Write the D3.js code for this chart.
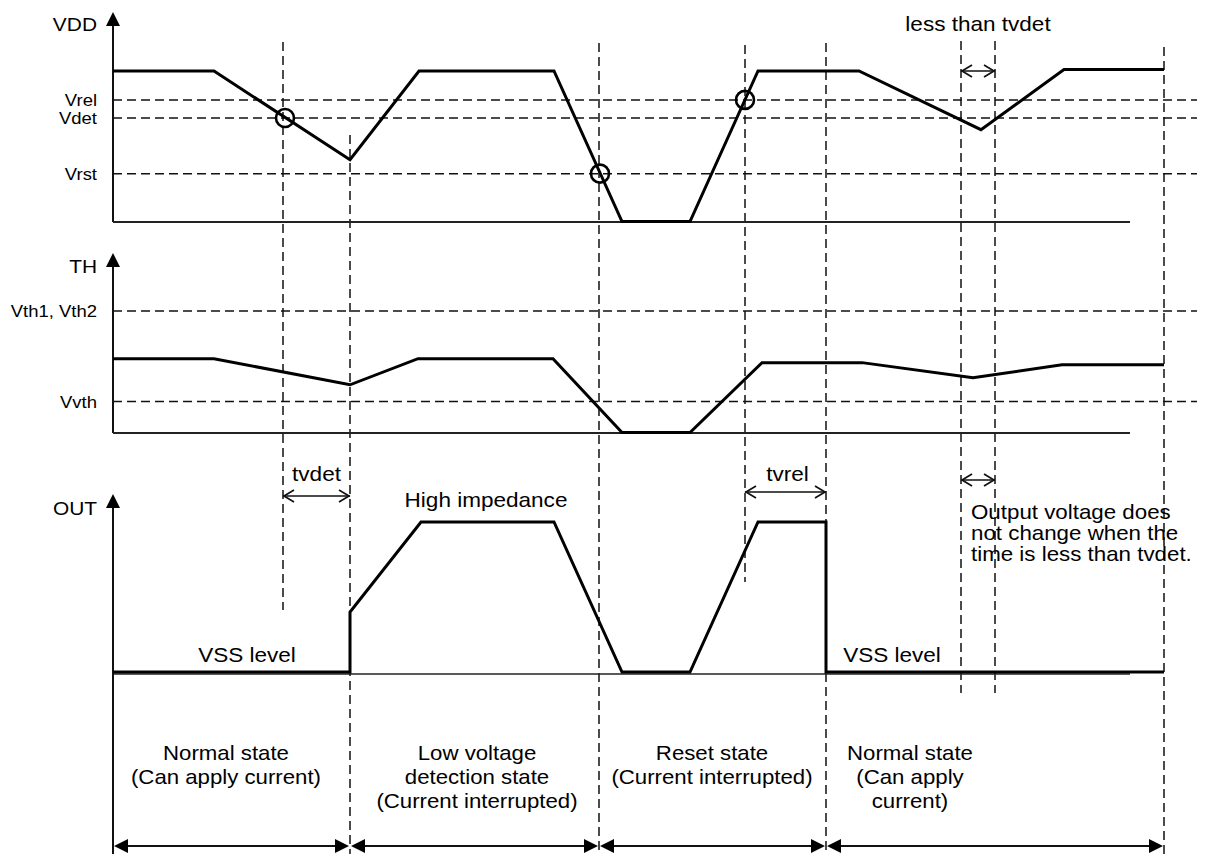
<!DOCTYPE html>
<html>
<head>
<meta charset="utf-8">
<script src="https://cdn.jsdelivr.net/npm/d3@7"></script>
<style>
  body { margin: 0; background: #fff; }
  svg { display: block; font-family: "Liberation Sans", Arial, Helvetica, sans-serif; }
</style>
</head>
<body>
<svg id="chart"></svg>
<script>
// Waveform data: time in arbitrary units, levels in arbitrary volts
const vddTimes  = [0, 10.1, 23.7, 30.6, 44.1, 50.9, 57.7, 64.5, 74.6, 86.8, 95.1, 105.1];
const vddValues = [5, 5, 2.05, 5, 5, 0, 0, 5, 5, 3.05, 5.05, 5.05];

const thTimes  = [0, 10.1, 23.7, 30.5, 44.0, 50.9, 57.7, 64.9, 74.9, 86.0, 94.9, 105.1];
const thValues = [2.43, 2.43, 1.57, 2.43, 2.43, 0, 0, 2.3, 2.3, 1.8, 2.23, 2.23];

const outTimes  = [0, 23.7, 23.7, 30.8, 44.1, 50.9, 57.7, 64.5, 71.3, 71.3, 105.1];
const outValues = [0, 0, 2, 5, 5, 0, 0, 5, 5, 0, 0];

const vddLevelNames = ["Vrel", "Vdet", "Vrst"];
const vddLevelValues = [4.04, 3.44, 1.59];
const thLevelNames = ["Vth1, Vth2", "Vvth"];
const thLevelValues = [4.0, 1.02];

// circled threshold crossings on VDD
const crossTimes = [17.2, 48.7, 63.2];
const crossValues = [3.44, 1.59, 4.04];

// vertical dashed timing markers
const markerTimes = [17, 23.7, 48.6, 63.2, 71.3, 84.8, 88.2, 105.1];

// states along the bottom
const phaseBounds = [0, 23.7, 48.6, 71.3, 105.1];
const phaseLabels = [
  ["Normal state", "(Can apply current)"],
  ["Low voltage", "detection state", "(Current interrupted)"],
  ["Reset state", "(Current interrupted)"],
  ["Normal state", "(Can apply", "current)"]
];

const W = 1205, H = 854;
const STRETCH = 1.1; // original lettering is a little wider than Arial
const svg = d3.select("#chart").attr("width", W).attr("height", H);

const x = d3.scaleLinear().domain([0, 105.1]).range([113, 1164]);
const yVdd = d3.scaleLinear().domain([0, 5]).range([221.5, 71]);
const yTh = d3.scaleLinear().domain([0, 4]).range([432.5, 311]);
const yOut = d3.scaleLinear().domain([0, 5]).range([672, 522]);

const dash = "9,5";
const axisX = x(0);
const baseEnd = x(101.7);
const levelEnd = 1197;

function label(px, py, str, size, anchor) {
  svg.append("text")
    .attr("transform", `translate(${px},${py}) scale(${STRETCH},1)`)
    .attr("text-anchor", anchor || "middle")
    .attr("font-size", size)
    .attr("fill", "#000")
    .text(str);
}

function axisArrow(tipY, bottomY) {
  svg.append("line")
    .attr("x1", axisX).attr("x2", axisX)
    .attr("y1", tipY + 10).attr("y2", bottomY)
    .attr("stroke", "#111").attr("stroke-width", 2);
  svg.append("path")
    .attr("d", `M${axisX},${tipY} L${axisX - 7},${tipY + 14} L${axisX + 7},${tipY + 14} Z`)
    .attr("fill", "#000");
}

function dimArrow(x1, x2, yy) {
  svg.append("line").attr("x1", x1).attr("x2", x2).attr("y1", yy).attr("y2", yy)
    .attr("stroke", "#111").attr("stroke-width", 1.7);
  svg.append("path")
    .attr("d", `M${x1 + 11},${yy - 6} L${x1 + 1},${yy} L${x1 + 11},${yy + 6}` +
               `M${x2 - 11},${yy - 6} L${x2 - 1},${yy} L${x2 - 11},${yy + 6}`)
    .attr("fill", "none").attr("stroke", "#111").attr("stroke-width", 1.7);
}

function spanArrow(x1, x2, yy) {
  svg.append("line").attr("x1", x1 + 4).attr("x2", x2 - 4).attr("y1", yy).attr("y2", yy)
    .attr("stroke", "#111").attr("stroke-width", 1.8);
  svg.append("path")
    .attr("d", `M${x1},${yy} L${x1 + 14},${yy - 7} L${x1 + 14},${yy + 7} Z` +
               `M${x2},${yy} L${x2 - 14},${yy - 7} L${x2 - 14},${yy + 7} Z`)
    .attr("fill", "#000");
}

// vertical dashed markers (extent in px per marker)
const markerSpans = [[42, 610], [135, 854], [43, 854], [45, 582], [43, 854], [41, 693], [41, 693], [47, 854]];
svg.append("g").selectAll("line")
  .data(markerTimes)
  .join("line")
  .attr("x1", d => x(d)).attr("x2", d => x(d))
  .attr("y1", (d, i) => markerSpans[i][0])
  .attr("y2", (d, i) => markerSpans[i][1])
  .attr("stroke", "#111").attr("stroke-width", 1.5)
  .attr("stroke-dasharray", dash);

// horizontal threshold levels
function levels(names, values, yScale) {
  values.forEach((v, i) => {
    svg.append("line")
      .attr("x1", axisX).attr("x2", levelEnd)
      .attr("y1", yScale(v)).attr("y2", yScale(v))
      .attr("stroke", "#111").attr("stroke-width", 1.5)
      .attr("stroke-dasharray", dash);
    label(97, yScale(v) + 6, names[i], 16.8, "end");
  });
}
levels(vddLevelNames, vddLevelValues, yVdd);
levels(thLevelNames, thLevelValues, yTh);

// axes
axisArrow(12, 222);
axisArrow(253, 433);
axisArrow(494, 854);
label(97, 31, "VDD", 19, "end");
label(97, 273, "TH", 19, "end");
label(97, 515, "OUT", 19, "end");

// baselines
[[222, 2], [433, 2], [674, 1.5]].forEach(([yy, sw]) => {
  svg.append("line").attr("x1", axisX).attr("x2", baseEnd)
    .attr("y1", yy).attr("y2", yy)
    .attr("stroke", "#222").attr("stroke-width", sw);
});

// waveforms
function wave(times, values, yScale) {
  const line = d3.line().x(d => x(d[0])).y(d => yScale(d[1]));
  svg.append("path")
    .datum(d3.zip(times, values))
    .attr("d", line)
    .attr("fill", "none")
    .attr("stroke", "#000")
    .attr("stroke-width", 3)
    .attr("stroke-linejoin", "miter");
}
wave(vddTimes, vddValues, yVdd);
wave(thTimes, thValues, yTh);
wave(outTimes, outValues, yOut);

// circled crossings
svg.append("g").selectAll("circle")
  .data(d3.zip(crossTimes, crossValues))
  .join("circle")
  .attr("cx", d => x(d[0])).attr("cy", d => yVdd(d[1]))
  .attr("r", 9)
  .attr("fill", "none").attr("stroke", "#000").attr("stroke-width", 2.6);

// timing annotations
label((x(84.8) + x(88.2)) / 2, 31, "less than tvdet", 20.5);
dimArrow(x(84.8), x(88.2), 71);

label((x(17) + x(23.7)) / 2, 481, "tvdet", 20.5);
dimArrow(x(17), x(23.7), 496);

label(x(37.3), 507, "High impedance", 20.5);

label((x(63.2) + x(71.3)) / 2 + 2, 481, "tvrel", 20.5);
dimArrow(x(63.2), x(71.3), 492);

dimArrow(x(84.8), x(88.2), 480);
["Output voltage does", "not change when the", "time is less than tvdet."].forEach((s, i) => {
  label(971, 519 + i * 20.8, s, 20.3, "start");
});

label(x(13.4), 662, "VSS level", 20.5);
label(x(77.9), 662, "VSS level", 20.5);

// states along the bottom
const phaseCenters = [11.3, 36.4, 59.9, 79.7];
phaseLabels.forEach((lines, i) => {
  lines.forEach((s, j) => label(x(phaseCenters[i]), 760 + j * 24, s, 20.2));
  spanArrow(x(phaseBounds[i]) + 1, x(phaseBounds[i + 1]) - 1, 846);
});
</script>
</body>
</html>
